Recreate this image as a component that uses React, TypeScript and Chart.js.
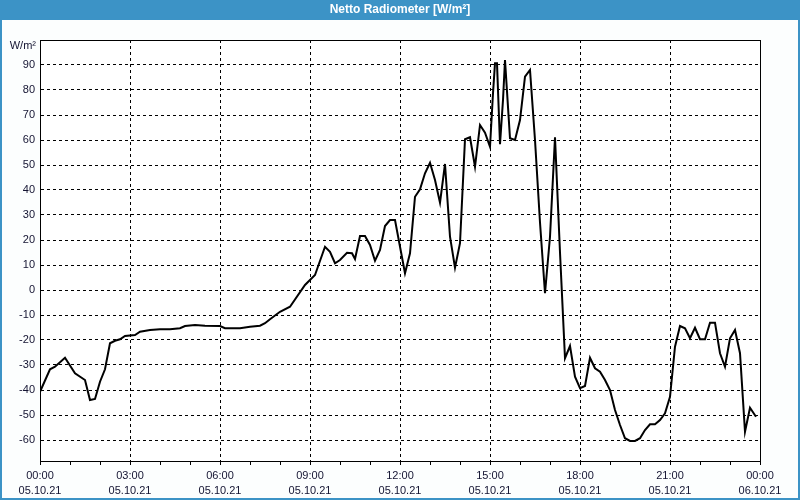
import React, { useEffect, useRef } from "react";
import { Chart, registerables } from "chart.js";

Chart.register(...registerables);

const TITLE = "Netto Radiometer [W/m²]";
const UNIT = "W/m²";

// minutes since 05.10.21 00:00
const times = [
  0, 20, 30, 50, 70, 90, 100, 110, 120, 130, 140, 150, 160, 170, 190, 200, 220, 240, 260, 280,
  290, 310, 330, 360, 370, 400, 420, 440, 450, 460, 480, 500, 530, 550, 570, 580, 590, 600, 614, 624,
  630, 640, 650, 660, 670, 680, 690, 700, 710, 730, 740, 750, 760, 770, 780, 790, 800, 810, 820, 830,
  840, 850, 860, 870, 880, 890, 900, 906, 910, 914, 920, 926, 930, 940, 950, 960, 970, 980, 990, 1000,
  1010, 1020, 1030, 1040, 1050, 1060, 1070, 1080, 1090, 1100, 1110, 1120, 1130, 1140, 1150, 1160, 1170, 1180, 1190, 1200,
  1210, 1220, 1230, 1240, 1250, 1260, 1270, 1280, 1290, 1300, 1310, 1320, 1330, 1340, 1350, 1360, 1370, 1380, 1390, 1400,
  1410, 1420, 1432,
];
const values = [
  -40.7, -31.7, -30.7, -27.1, -33.3, -36, -44, -43.6, -36.7, -31.7, -21.3, -20.3, -19.7, -18.4, -18, -16.7, -16, -15.7, -15.7, -15.3,
  -14.4, -14, -14.3, -14.4, -15.3, -15.3, -14.7, -14.3, -13.3, -11.7, -8.7, -6.7, 2, 6, 17.3, 15.3, 10.7, 12, 14.9, 14.7,
  12.4, 21.6, 21.6, 18, 11.7, 16, 25.6, 28, 28, 6.7, 14.7, 37.3, 40.3, 46.7, 50.9, 44, 34.9, 50.4, 21.3, 8.9,
  18.7, 60.3, 61.1, 49.3, 66, 62.9, 57.3, 78.7, 90.7, 90.7, 58.3, 76, 92, 60.7, 60, 68, 85.3, 88, 60, 27,
  -1.3, 21.3, 61.1, 15, -27.3, -22.4, -34.7, -39.3, -38.4, -27.1, -31.3, -32.7, -36, -40, -48, -54, -59.3, -60.4, -60.4, -59.3,
  -56, -53.7, -53.7, -52, -49.3, -42.7, -22.7, -14.4, -15.3, -19.3, -15.1, -19.7, -19.7, -13.1, -13.1, -25.3, -30.7, -19.3, -16, -25.3,
  -56.7, -47.1, -50.7,
];

const xTickTimes = ["00:00", "03:00", "06:00", "09:00", "12:00", "15:00", "18:00", "21:00", "00:00"];
const xTickDates = ["05.10.21", "05.10.21", "05.10.21", "05.10.21", "05.10.21", "05.10.21", "05.10.21", "05.10.21", "06.10.21"];

const Y_MIN = -68.4;
const Y_MAX = 100;
const BLUE = "#3c93c6";
const TEXT = "#141432";
const FONT = "'Liberation Sans', Arial, sans-serif";

export default function App() {
  const ref = useRef<HTMLCanvasElement | null>(null);

  useEffect(() => {
    document.body.style.margin = "0";
    const canvas = ref.current;
    if (!canvas) return;

    const framePlugin = {
      id: "frame",
      beforeDraw(chart: any) {
        const { ctx, width, height } = chart;
        ctx.save();
        ctx.fillStyle = "#fcfefe";
        ctx.fillRect(0, 0, width, height);
        ctx.fillStyle = BLUE;
        ctx.fillRect(0, 0, width, 20);
        ctx.fillRect(0, 0, 2, height);
        ctx.fillRect(width - 2, 0, 2, height);
        ctx.fillRect(0, height - 2, width, 2);
        ctx.fillStyle = "#ffffff";
        ctx.font = `bold 12px ${FONT}`;
        ctx.textAlign = "center";
        ctx.textBaseline = "middle";
        ctx.fillText(TITLE, width / 2, 10);
        const a = chart.chartArea;
        ctx.fillStyle = "#ffffff";
        ctx.fillRect(a.left, a.top, a.right - a.left, a.bottom - a.top);
        ctx.restore();
      },
      afterDraw(chart: any) {
        const { ctx } = chart;
        const a = chart.chartArea;
        ctx.save();
        ctx.strokeStyle = "#000000";
        ctx.lineWidth = 1;
        ctx.strokeRect(Math.round(a.left) + 0.5, Math.round(a.top) + 0.5, Math.round(a.right - a.left), Math.round(a.bottom - a.top));
        ctx.fillStyle = TEXT;
        ctx.font = `11px ${FONT}`;
        ctx.textAlign = "right";
        ctx.textBaseline = "middle";
        ctx.fillText(UNIT, a.left - 4, a.top + 6);
        ctx.restore();
      },
    };

    const chart = new Chart(canvas, {
      type: "line",
      data: {
        datasets: [
          {
            data: times.map((t, i) => ({ x: t / 60, y: values[i] })),
            borderColor: "#000000",
            borderWidth: 2,
            pointRadius: 0,
            tension: 0,
            fill: false,
          },
        ],
      },
      options: {
        animation: false,
        responsive: false,
        maintainAspectRatio: false,
        parsing: false,
        layout: { padding: { top: 40, right: 40, left: 0, bottom: 0 } },
        plugins: { legend: { display: false }, tooltip: { enabled: false }, title: { display: false } },
        scales: {
          x: {
            type: "linear",
            min: 0,
            max: 24,
            afterFit: (s: any) => {
              s.height = 39;
            },
            ticks: {
              stepSize: 1,
              autoSkip: false,
              maxRotation: 0,
              color: TEXT,
              font: { family: FONT, size: 11, lineHeight: 1.4 },
              padding: 3,
              callback: (v: any) => {
                const n = Math.round(Number(v));
                if (n % 3 !== 0) return "";
                const k = n / 3;
                return [xTickTimes[k], xTickDates[k]];
              },
            },
            grid: {
              color: (c: any) => {
                const v = c.tick ? Math.round(c.tick.value) : 0;
                return v % 3 === 0 && v !== 0 && v !== 24 ? "#000000" : "rgba(0,0,0,0)";
              },
              tickColor: "#000000",
              tickLength: 4,
              tickBorderDash: [],
              lineWidth: 1,
            },
            border: { display: true, color: "#000000", dash: [3, 3] },
          },
          y: {
            type: "linear",
            min: Y_MIN,
            max: Y_MAX,
            afterFit: (s: any) => {
              s.width = 40;
            },
            afterBuildTicks: (s: any) => {
              s.ticks = s.ticks.filter((t: any) => Math.abs(t.value / 10 - Math.round(t.value / 10)) < 1e-6 && t.value < 95);
            },
            ticks: {
              stepSize: 10,
              color: TEXT,
              font: { family: FONT, size: 11 },
              padding: 5,
              callback: (v: any) => String(Math.round(Number(v))),
            },
            grid: {
              color: "#000000",
              drawTicks: false,
              lineWidth: 1,
            },
            border: { display: true, color: "#000000", dash: [3, 3] },
          },
        },
      },
      plugins: [framePlugin],
    } as any);

    return () => chart.destroy();
  }, []);

  return (
    <div style={{ position: "fixed", left: 0, top: 0, width: 800, height: 500 }}>
      <canvas ref={ref} width={800} height={500} style={{ width: 800, height: 500, display: "block" }} />
    </div>
  );
}
